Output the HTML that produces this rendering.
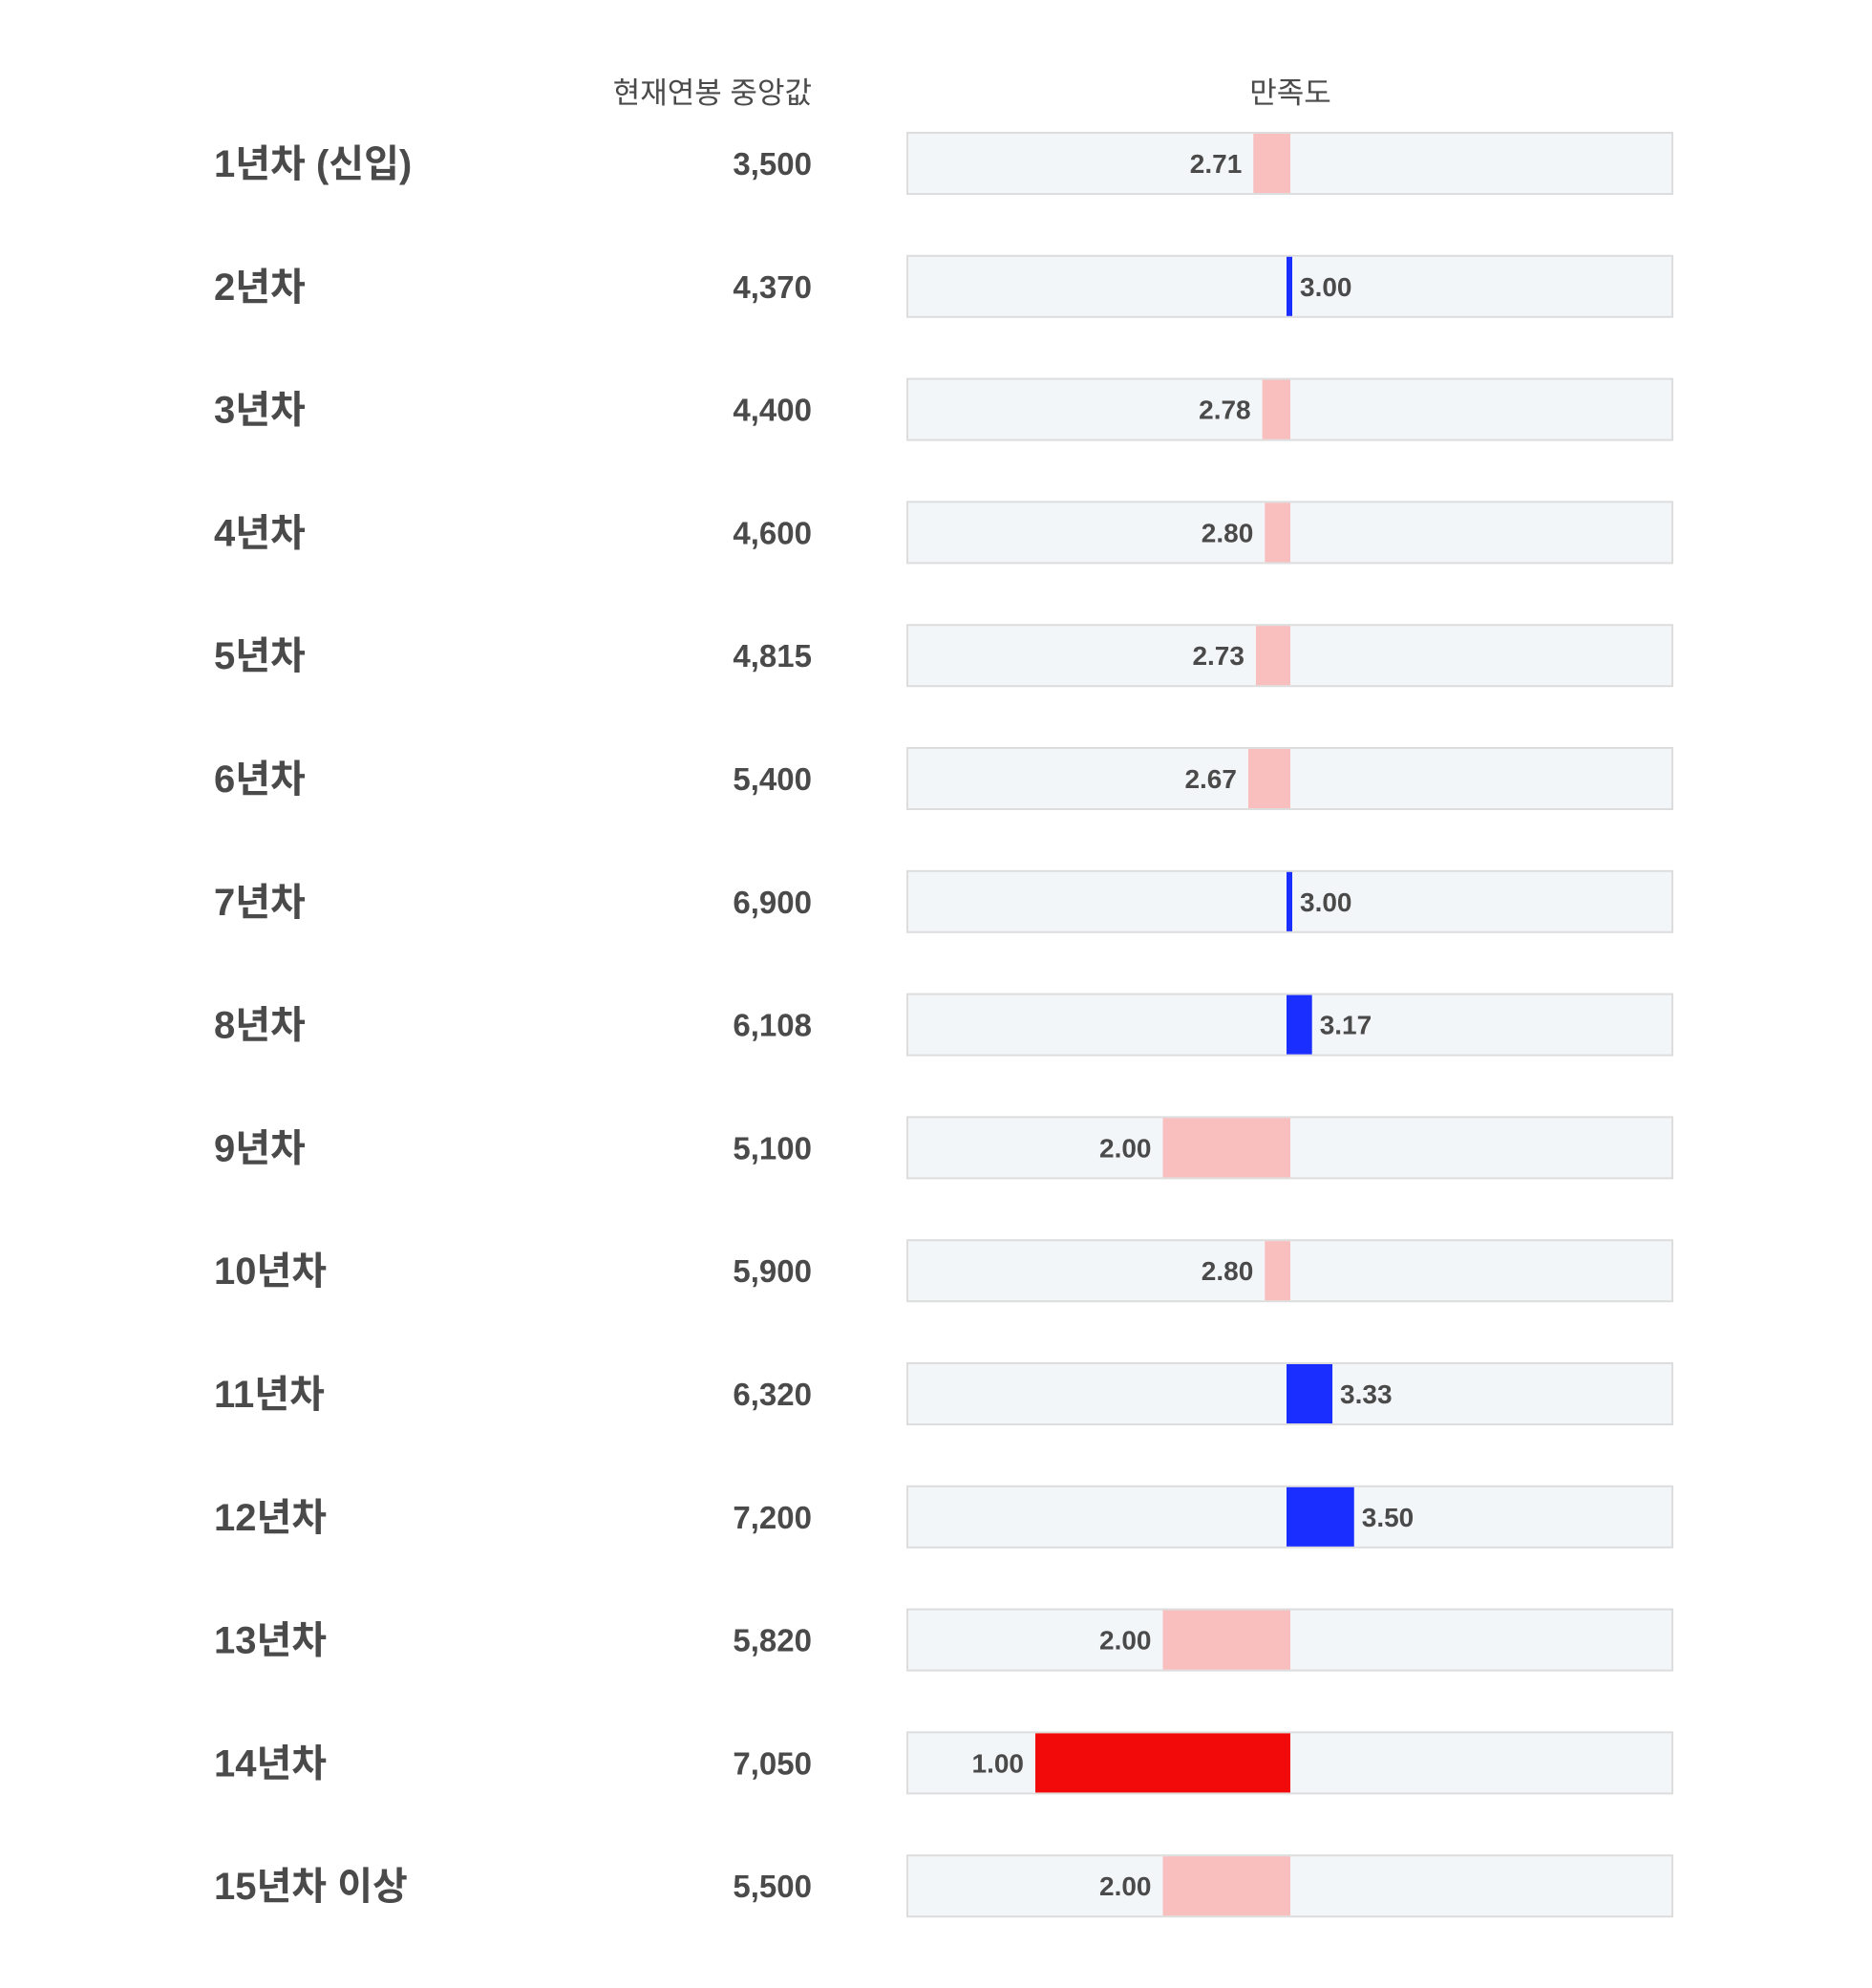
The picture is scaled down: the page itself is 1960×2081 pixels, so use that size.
<!DOCTYPE html>
<html><head><meta charset="utf-8"><style>
body{margin:0;background:#fff;width:1960px;height:2076px;overflow:hidden;font-family:"Liberation Sans","Noto Sans CJK KR",sans-serif;}
svg text{font-family:"Liberation Sans","Noto Sans CJK KR",sans-serif;fill:#4a4a4a;}
</style></head><body>
<svg id="chart" width="1960" height="2076" xmlns="http://www.w3.org/2000/svg">
<text x="850" y="108" font-size="31" text-anchor="end">현재연봉 중앙값</text>
<text x="1351" y="108" font-size="31" text-anchor="middle">만족도</text>
<g id="rows"></g>
</svg>
<script>
const categories=["1년차 (신입)","2년차","3년차","4년차","5년차","6년차","7년차","8년차","9년차","10년차","11년차","12년차","13년차","14년차","15년차 이상"];
const salaries=["3,500","4,370","4,400","4,600","4,815","5,400","6,900","6,108","5,100","5,900","6,320","7,200","5,820","7,050","5,500"];
const satisfaction=[2.71,3.00,2.78,2.80,2.73,2.67,3.00,3.17,2.00,2.80,3.33,3.50,2.00,1.00,2.00];
const NS="http://www.w3.org/2000/svg";
const trackX=950,trackW=801,centerX=1351,unitPx=133.5;
const xs=v=>centerX+(v-3)*unitPx;
const rowY=i=>139+i*128.8;
const g=document.getElementById('rows');
function mk(t,a){const e=document.createElementNS(NS,t);for(const k in a)e.setAttribute(k,a[k]);return e;}
categories.forEach((c,i)=>{
  const y=rowY(i),cy=y+32;
  let t=mk('text',{x:224,y:cy+14,'font-size':40,'font-weight':'bold'});t.textContent=c;
  
  
  g.appendChild(t);
  t=mk('text',{x:850,y:cy+12,'font-size':33,'font-weight':'bold','text-anchor':'end'});t.textContent=salaries[i];
  
  
  g.appendChild(t);
  const tr=mk('rect',{x:trackX,y:y,width:trackW,height:64,fill:'#f3f6f9',stroke:'#dddddd','stroke-width':2});
  
  
  g.appendChild(tr);
  const v=satisfaction[i],c0=xs(3),cv=xs(v);
  let x,w,fill;
  if(v>=3){x=c0-4;w=Math.max(6,cv-c0+4);fill='#1a2eff';}
  else{x=cv;w=c0-cv;fill=v<=1?'#f20a0a':'#f9bebe';}
  const b=mk('rect',{x:x,y:y+1,width:w,height:62,fill:fill});
  
  
  g.appendChild(b);
  const lt=mk('text',{y:cy+10,'font-size':28,'font-weight':'bold'});
  if(v>=3){lt.setAttribute('x',x+w+8);}else{lt.setAttribute('x',x-12);lt.setAttribute('text-anchor','end');}
  lt.textContent=v.toFixed(2);
  
  
  g.appendChild(lt);
});
</script>
</body></html>
